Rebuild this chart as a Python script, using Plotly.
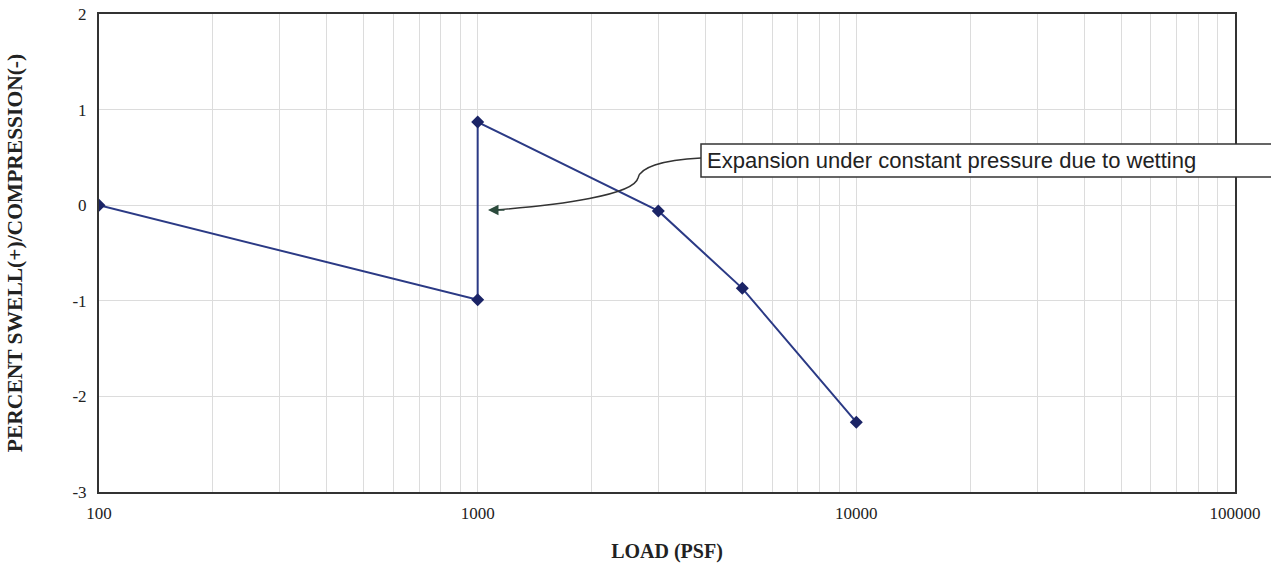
import plotly.graph_objects as go

# Data
load_psf = [100, 1000, 1000, 3000, 5000, 10000]
percent_swell = [0.0, -0.99, 0.87, -0.06, -0.87, -2.27]

x_tickvals = [100, 1000, 10000, 100000]
x_ticktext = ["100", "1000", "10000", "100000"]
y_tickvals = [2, 1, 0, -1, -2, -3]
y_ticktext = ["2", "1", "0", "-1", "-2", "-3"]

annotation_text = "Expansion under constant pressure due to wetting"

L, R, T, B = 99, 1235, 14, 492
W, H = 1271, 571


def px(x):
    return (x - L) / (R - L)


def py(y):
    return 1 - (y - T) / (B - T)


fig = go.Figure()
fig.add_trace(go.Scatter(
    x=load_psf, y=percent_swell, mode="lines+markers",
    line=dict(color="#2b3a85", width=2),
    marker=dict(symbol="diamond", size=10, color="#1b2466"),
    showlegend=False,
))

grid_c = "#dcdcdc"
fig.update_xaxes(
    type="log", range=[2, 5], automargin=False,
    tickvals=x_tickvals, ticktext=x_ticktext,
    showgrid=True, gridcolor=grid_c, gridwidth=1,
    minor=dict(showgrid=True, gridcolor=grid_c, gridwidth=1, dtick="D1", ticks=""),
    showline=True, linecolor="#333333", linewidth=2, mirror=True,
    ticks="", ticklabelstandoff=5,
    tickfont=dict(family="Liberation Serif", size=17, color="#222222"),
    title=dict(text="<b>LOAD (PSF)</b>", standoff=22,
               font=dict(family="Liberation Serif", size=20, color="#222222")),
    zeroline=False,
)
fig.update_yaxes(
    range=[-3, 2], automargin=False,
    tickvals=y_tickvals, ticktext=y_ticktext,
    showgrid=True, gridcolor=grid_c, gridwidth=1,
    showline=True, linecolor="#333333", linewidth=2, mirror=True,
    ticks="", ticklabelstandoff=7,
    tickfont=dict(family="Liberation Serif", size=17, color="#222222"),
    title=dict(text="<b>PERCENT SWELL(+)/COMPRESSION(-)</b>", standoff=44,
               font=dict(family="Liberation Serif", size=21.5, color="#222222")),
    zeroline=False,
)

# curved leader line
path = (f"M {px(701)},{py(158)} "
        f"C {px(660)},{py(160)} {px(640)},{py(168)} {px(638)},{py(178)} "
        f"C {px(634)},{py(195)} {px(560)},{py(205)} {px(495)},{py(210)}")
shapes = [
    dict(type="path", xref="paper", yref="paper", path=path,
         line=dict(color="#333333", width=1.5)),
    dict(type="rect", xref="paper", yref="paper",
         x0=px(701), x1=px(1300), y0=py(177), y1=py(144),
         line=dict(color="#333333", width=1.5), fillcolor="white", layer="above"),
]

annotations = [
    dict(xref="paper", yref="paper", x=px(488), y=py(210), text="",
         showarrow=True, ax=18, ay=0, arrowhead=2, arrowsize=1.4,
         arrowwidth=1.5, arrowcolor="#2b4a3c"),
    dict(xref="paper", yref="paper", x=px(705), y=py(160.5), text=annotation_text,
         xanchor="left", yanchor="middle", showarrow=False,
         font=dict(family="Liberation Sans", size=22, color="#222222")),
]

fig.update_layout(
    width=W, height=H,
    margin=dict(l=L, r=W - R, t=T, b=H - B),
    plot_bgcolor="white", paper_bgcolor="white",
    shapes=shapes, annotations=annotations,
)

fig.write_html("out.html")
